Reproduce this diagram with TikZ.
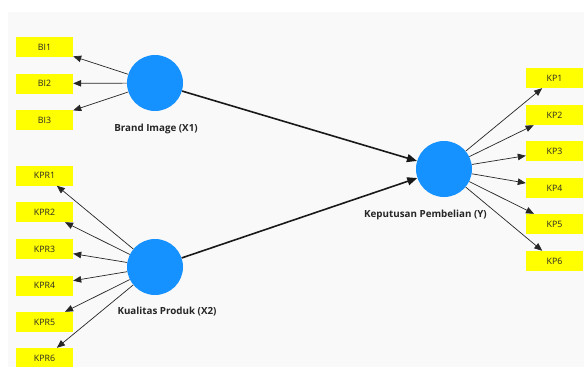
\documentclass[tikz,border=0pt]{standalone}
\usepackage{fontspec}
\setmainfont{Open Sans}
\usetikzlibrary{arrows.meta}
\definecolor{bg}{HTML}{F9F9F9}
\definecolor{lv}{HTML}{1592FF}
\definecolor{mv}{HTML}{FFFF00}
\tikzset{
  ind/.style={draw=none,fill=mv,minimum width=57pt,minimum height=20pt,inner sep=0pt,font=\fontsize{8.8}{10}\selectfont,text=black!85},
  lat/.style={circle,fill=lv,draw=none,minimum size=56pt,inner sep=0pt},
  lab/.style={font=\bfseries\fontsize{9.8}{11}\selectfont,text=black!85},
  load/.style={-{Triangle[length=8pt,width=6.5pt]},line width=0.7pt,black!85},
  path/.style={-{Triangle[length=10pt,width=8pt]},line width=1.6pt,black!90},
}
\begin{document}
\begin{tikzpicture}[x=1pt,y=-1pt]
\useasboundingbox (0,0) rectangle (584,367);
\fill[bg] (8,12) rectangle (584,367);
% latent variables
\node[lat] (X1) at (155,83) {};
\node[lat] (X2) at (155,267) {};
\node[lat] (Y) at (444,169) {};
\node[lab] (lX1) at (156,129) {Brand Image (X1)};
\node[lab] (lX2) at (167,312) {Kualitas Produk (X2)};
\node[lab] (lY) at (425.5,215) {Keputusan Pembelian (Y)};
% indicators
\node[ind] (BI1) at (44.5,47) {BI1};
\node[ind] (BI2) at (44.5,83.5) {BI2};
\node[ind] (BI3) at (44.5,120) {BI3};
\node[ind] (KPR1) at (44.5,175.5) {KPR1};
\node[ind] (KPR2) at (44.5,212) {KPR2};
\node[ind] (KPR3) at (44.5,249) {KPR3};
\node[ind] (KPR4) at (44.5,285.5) {KPR4};
\node[ind] (KPR5) at (44.5,322) {KPR5};
\node[ind] (KPR6) at (44.5,358) {KPR6};
\node[ind] (KP1) at (554.5,78) {KP1};
\node[ind] (KP2) at (554.5,115) {KP2};
\node[ind] (KP3) at (554.5,151) {KP3};
\node[ind] (KP4) at (554.5,188) {KP4};
\node[ind] (KP5) at (554.5,224) {KP5};
\node[ind] (KP6) at (554.5,261) {KP6};
% loadings
\foreach \i in {BI1,BI2,BI3} \draw[load] (X1) -- (\i);
\foreach \i in {KPR1,KPR2,KPR3,KPR4,KPR5,KPR6} \draw[load] (X2) -- (\i);
\foreach \i in {KP1,KP2,KP3,KP4,KP5,KP6} \draw[load] (Y) -- (\i);
% structural paths
\draw[path] (X1) -- (Y);
\draw[path] (X2) -- (Y);
\end{tikzpicture}
\end{document}
